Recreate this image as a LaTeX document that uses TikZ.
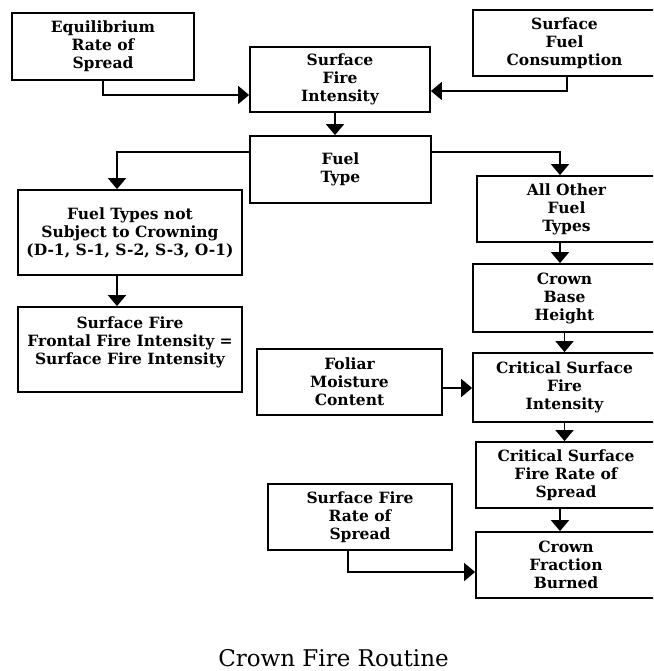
\documentclass[tikz,border=0pt]{standalone}
\usepackage{fontspec}
\setmainfont{DejaVu Serif}
\usetikzlibrary{arrows.meta}
\begin{document}
\begin{tikzpicture}[x=1pt,y=-1pt,
  box/.style={draw, line width=1.8pt, inner sep=0pt, align=center,
    font=\fontsize{15.5}{18}\selectfont\bfseries},
  txt/.style={inner sep=0pt, align=center, font=\fontsize{15.5}{18}\selectfont\bfseries},
  arr/.style={line width=1.8pt, -{Triangle[width=18pt,length=11pt]}},
  bx/.style n args={2}{minimum width=#1pt, minimum height=#2pt}]
\useasboundingbox (0,0) rectangle (653,671);
\begin{scope}
\clip (0,0) rectangle (653,671);
% input boxes across the top
\node[box, bx={182}{67}] (eq) at (103,46.5) {Equilibrium\\Rate of\\Spread};
\node[box, bx={180}{65}] (sfi) at (340,79.5) {Surface\\Fire\\Intensity};
\node[box, bx={183}{66}] (sfc) at (564.5,43) {Surface\\Fuel\\Consumption};
\node[box, bx={181}{67}] (ft) at (340.5,169.5) {Fuel\\Type};
% left branch
\node[box, bx={224}{85}] (ftn) at (130,232.5) {Fuel Types not\\Subject to Crowning\\(D-1, S-1, S-2, S-3, O-1)};
\node[box, bx={224}{85}] (sff) at (130,349.5) {};
\node[txt] (sfft) at (130,342) {Surface Fire\\Frontal Fire Intensity =\\Surface Fire Intensity};
% right branch
\node[box, bx={179}{66}] (aoft) at (566.5,209) {All Other\\Fuel\\Types};
\node[box, bx={183}{68}] (cbh) at (564.5,298) {Crown\\Base\\Height};
\node[box, bx={183}{69}] (csfi) at (564.5,387.5) {Critical Surface\\Fire\\Intensity};
\node[box, bx={185}{66}] (fmc) at (349.5,382) {Foliar\\Moisture\\Content};
\node[box, bx={180}{66}] (csfr) at (566,475) {Critical Surface\\Fire Rate of\\Spread};
\node[box, bx={184}{66}] (sfr) at (360,517) {Surface Fire\\Rate of\\Spread};
\node[box, bx={180}{66}] (cfb) at (566,565) {Crown\\Fraction\\Burned};
% connectors
\draw[arr] (eq.south) |- ([yshift=-15.5pt]sfi.west);
\draw[arr] ([xshift=2.5pt]sfc.south) |- ([yshift=-11.5pt]sfi.east);
\draw[arr] ([xshift=-5pt]sfi.south) -- ([xshift=-5.5pt]ft.north);
\draw[arr] ([yshift=17.5pt]ft.west) -| ([xshift=-13pt]ftn.north);
\draw[arr] ([yshift=17.5pt]ft.east) -| ([xshift=-6.5pt]aoft.north);
\draw[arr] ([xshift=-13pt]ftn.south) -- ([xshift=-13pt]sff.north);
\draw[arr] ([xshift=-6.5pt]aoft.south) -- ([xshift=-4.5pt]cbh.north);
\draw[arr] (cbh.south) -- (csfi.north);
\draw[arr] ([yshift=-6pt]fmc.east) -- ([yshift=-0.5pt]csfi.west);
\draw[arr] (csfi.south) -- ([xshift=-1.5pt]csfr.north);
\draw[arr] ([xshift=-6pt]csfr.south) -- ([xshift=-6pt]cfb.north);
\draw[arr] ([xshift=-12pt]sfr.south) |- ([yshift=-7pt]cfb.west);
\end{scope}
% caption
\node[inner sep=0pt, anchor=base, font=\fontsize{23}{28}\selectfont] (title) at (333.5,666) {Crown Fire Routine};
\end{tikzpicture}
\end{document}
